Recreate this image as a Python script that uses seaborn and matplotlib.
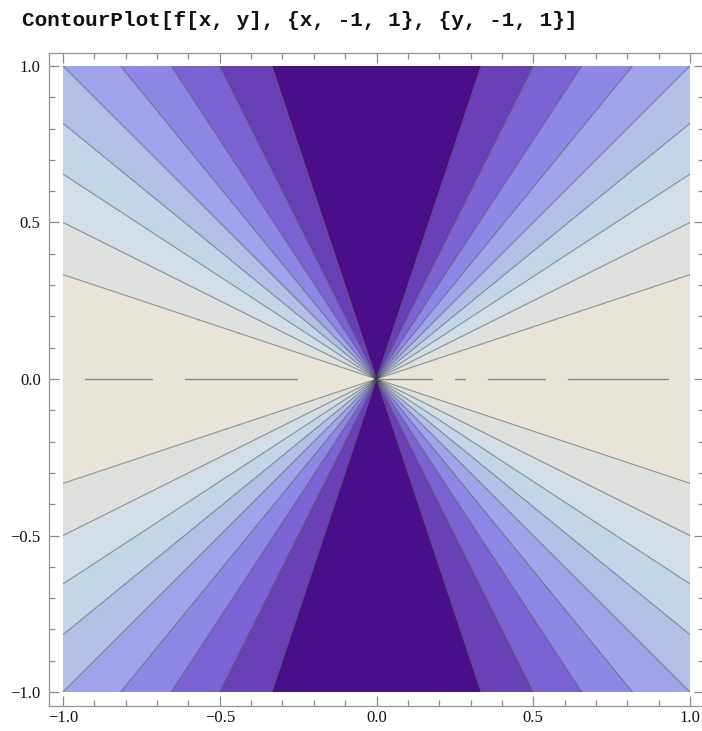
import numpy as np
import matplotlib
matplotlib.use("Agg")
import matplotlib.pyplot as plt
import seaborn as sns

# Contour levels of f(x, y) = (x^2 - y^2) / (x^2 + y^2)
levels = [-1.0, -0.8, -0.6, -0.4, -0.2, 0.0, 0.2, 0.4, 0.6, 0.8, 1.0]
band_colors = ["#4a0f88", "#6a40b6", "#7b63d3", "#8e87e6", "#a1a4ea",
               "#b2bfe6", "#c2d6e8", "#d2dee5", "#dde0dc", "#e8e4da"]

# Segments of the f = 1 contour traced along y = 0
dash_x0 = [-0.93, -0.61, 0.005, 0.25, 0.356, 0.611]
dash_x1 = [-0.716, -0.254, 0.177, 0.282, 0.537, 0.93]

tick_major = [-1.0, -0.5, 0.0, 0.5, 1.0]
tick_labels = ["\u22121.0", "\u22120.5", "0.0", "0.5", "1.0"]
tick_minor = [-0.9, -0.8, -0.7, -0.6, -0.4, -0.3, -0.2, -0.1,
              0.1, 0.2, 0.3, 0.4, 0.6, 0.7, 0.8, 0.9]

title_text = "ContourPlot[f[x, y], {x, -1, 1}, {y, -1, 1}]"

sns.set_theme(style="ticks")
plt.rcParams["font.family"] = ["Liberation Serif", "DejaVu Serif"]

fig = plt.figure(figsize=(7.02, 7.31), dpi=100)
ax = fig.add_axes([49 / 702, 25 / 731, 655 / 702, 653 / 731])

n = 800
gx = np.linspace(-1, 1, n)
gy = np.linspace(-1, 1, n)
X, Y = np.meshgrid(gx, gy)
R2 = X ** 2 + Y ** 2
F = (X ** 2 - Y ** 2) / R2

fill_levels = list(levels)
fill_levels[0] -= 1e-6
fill_levels[-1] += 1e-6
ax.contourf(X, Y, F, levels=fill_levels, colors=band_colors, antialiased=True)
ax.contour(X, Y, F, levels=levels[1:-1], colors="#3c3c3c", linewidths=0.8,
           alpha=0.5, linestyles="solid")

for a, b in zip(dash_x0, dash_x1):
    ax.plot([a, b], [0, 0], color="#777777", lw=1.0, alpha=0.85)

ax.set_xlim(-1.0447, 1.0447)
ax.set_ylim(-1.0447, 1.0415)

for side in ["left", "right", "top", "bottom"]:
    ax.spines[side].set_color("#9a9a9a")
    ax.spines[side].set_linewidth(1.0)
    ax.spines[side].set_visible(True)

ax.set_xticks(tick_major)
ax.set_xticklabels(tick_labels)
ax.set_yticks(tick_major)
ax.set_yticklabels(tick_labels)
ax.set_xticks(tick_minor, minor=True)
ax.set_yticks(tick_minor, minor=True)
ax.tick_params(which="both", direction="in", top=True, right=True,
               color="#8a8a8a", width=0.9)
ax.tick_params(which="major", length=7, labelsize=12, pad=6, labelcolor="#111111")
ax.tick_params(which="minor", length=4)
ax.tick_params(axis="x", pad=3)

fig.text(22 / 702, 1 - 20 / 731, title_text, family=["Liberation Mono", "DejaVu Sans Mono"],
         fontweight="bold", fontsize=15.1, va="center", ha="left", color="#111111")

fig.savefig("out.png", dpi=100)
